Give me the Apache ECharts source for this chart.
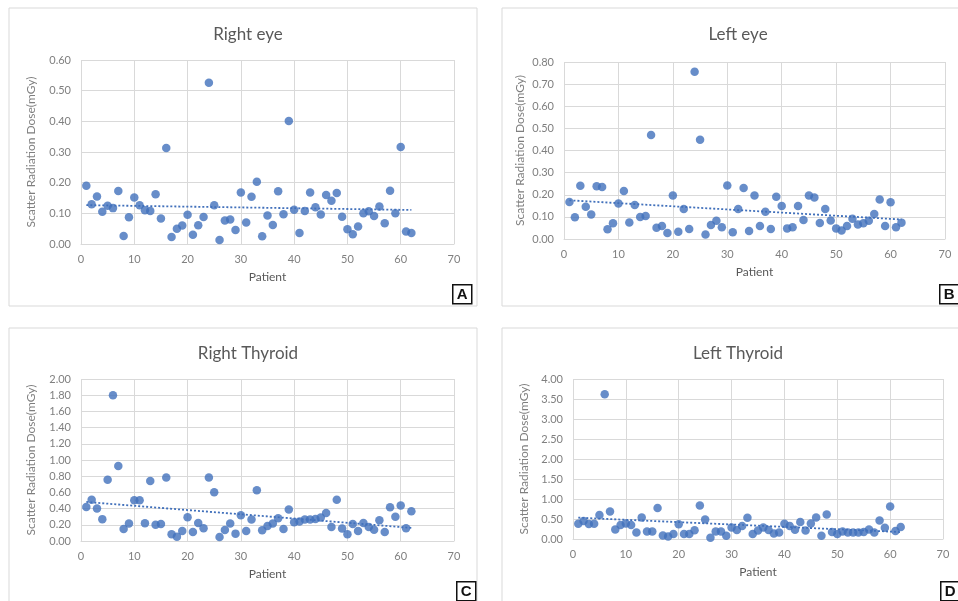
<!DOCTYPE html>
<html>
<head>
<meta charset="utf-8">
<script src="https://cdn.jsdelivr.net/npm/echarts@6/dist/echarts.min.js"></script>
<style>
  html, body { margin: 0; padding: 0; background: #fff; }
  #chart { width: 958px; height: 601px; }
</style>
</head>
<body>
<div id="chart"></div>
<script>
// patient number on x
const patients = [
  1, 2, 3, 4, 5, 6, 7, 8, 9, 10, 11, 12, 13, 14, 15, 16, 17, 18, 19, 20,
  21, 22, 23, 24, 25, 26, 27, 28, 29, 30, 31, 32, 33, 34, 35, 36, 37, 38, 39, 40,
  41, 42, 43, 44, 45, 46, 47, 48, 49, 50, 51, 52, 53, 54, 55, 56, 57, 58, 59, 60,
  61, 62,
];

// scatter dose (mGy)
const rightEye = [
  0.19, 0.13, 0.155, 0.105, 0.125, 0.117, 0.173, 0.026, 0.087, 0.152,
  0.126, 0.11, 0.108, 0.162, 0.083, 0.313, 0.023, 0.05, 0.06, 0.095,
  0.03, 0.061, 0.088, 0.526, 0.126, 0.013, 0.077, 0.08, 0.046, 0.168,
  0.07, 0.154, 0.203, 0.025, 0.093, 0.062, 0.172, 0.097, 0.401, 0.112,
  0.036, 0.108, 0.168, 0.12, 0.096, 0.16, 0.141, 0.166, 0.089, 0.048,
  0.032, 0.057, 0.1, 0.107, 0.091, 0.122, 0.068, 0.174, 0.1, 0.316,
  0.041, 0.036,
];
const leftEye = [
  0.167, 0.098, 0.241, 0.146, 0.111, 0.238, 0.235, 0.044, 0.071, 0.16,
  0.217, 0.075, 0.154, 0.099, 0.104, 0.47, 0.051, 0.059, 0.027, 0.197,
  0.033, 0.136, 0.045, 0.756, 0.449, 0.02, 0.063, 0.083, 0.053, 0.242,
  0.03, 0.136, 0.23, 0.036, 0.197, 0.059, 0.123, 0.045, 0.191, 0.149,
  0.048, 0.053, 0.149, 0.086, 0.197, 0.188, 0.072, 0.136, 0.084, 0.048,
  0.038, 0.059, 0.092, 0.065, 0.071, 0.083, 0.113, 0.178, 0.059, 0.166,
  0.053, 0.074,
];
const rightThyroid = [
  0.42, 0.51, 0.40, 0.27, 0.756, 1.80, 0.926, 0.149, 0.215, 0.504,
  0.504, 0.219, 0.74, 0.20, 0.21, 0.785, 0.083, 0.054, 0.124, 0.293,
  0.112, 0.223, 0.157, 0.785, 0.603, 0.05, 0.136, 0.215, 0.091, 0.318,
  0.124, 0.264, 0.628, 0.132, 0.186, 0.215, 0.281, 0.149, 0.388, 0.231,
  0.24, 0.264, 0.264, 0.273, 0.289, 0.347, 0.174, 0.508, 0.153, 0.083,
  0.21, 0.124, 0.223, 0.174, 0.14, 0.256, 0.112, 0.417, 0.298, 0.438,
  0.157, 0.368,
];
const leftThyroid = [
  0.38, 0.45, 0.375, 0.38, 0.6, 3.62, 0.69, 0.24, 0.35, 0.39,
  0.35, 0.16, 0.54, 0.19, 0.19, 0.775, 0.09, 0.06, 0.125, 0.37,
  0.125, 0.125, 0.22, 0.84, 0.49, 0.03, 0.19, 0.19, 0.08, 0.29,
  0.225, 0.325, 0.53, 0.125, 0.21, 0.29, 0.225, 0.14, 0.16, 0.38,
  0.325, 0.23, 0.425, 0.21, 0.39, 0.54, 0.08, 0.61, 0.175, 0.125,
  0.19, 0.16, 0.16, 0.16, 0.175, 0.24, 0.16, 0.46, 0.28, 0.81,
  0.2, 0.3,
];

const panelTitles = ["Right eye", "Left eye", "Right Thyroid", "Left Thyroid"];
const panelTags = ["A", "B", "C", "D"];
const yMax = [0.6, 0.8, 2.0, 4.0];
const yStep = [0.1, 0.1, 0.2, 0.5];

const dotColor = "#4170bb";
const textGray = "#595959";
const tickGray = "#7f7f7f";
const lineGray = "#d9d9d9";
const font = "Lato, 'Open Sans', sans-serif";

// linear trendline like excel does
function trend(xs, ys) {
  const n = xs.length;
  let sx = 0, sy = 0, sxx = 0, sxy = 0;
  for (let i = 0; i < n; i++) {
    sx += xs[i]; sy += ys[i];
    sxx += xs[i] * xs[i]; sxy += xs[i] * ys[i];
  }
  const b = (n * sxy - sx * sy) / (n * sxx - sx * sx);
  const a = (sy - b * sx) / n;
  const x0 = xs[0], x1 = xs[n - 1];
  return [[x0, a + b * x0], [x1, a + b * x1]];
}

const allData = [rightEye, leftEye, rightThyroid, leftThyroid];

// panel layout
const grids = [
  { left: 81, top: 60, width: 373, height: 184 },
  { left: 564, top: 62, width: 381, height: 177 },
  { left: 81, top: 379, width: 373, height: 162 },
  { left: 573, top: 379, width: 370, height: 160 },
];
const titlePos = [[243, 21], [733, 21], [243, 340], [733, 340]];
const yNameGap = [44, 38, 44, 43];
const boxes = [
  [9, 8, 468, 298], [502, 8, 470, 298],
  [9, 328, 468, 290], [502, 328, 470, 290],
];
const tagPos = [[452, 284], [939, 284], [456, 581], [940, 581]];

let xAxes = [], yAxes = [], series = [], titles = [], graphics = [];

boxes.forEach((b) => {
  graphics.push({
    type: "rect",
    shape: { x: b[0], y: b[1], width: b[2], height: b[3] },
    style: { fill: "none", stroke: lineGray, lineWidth: 1 },
    z: -1,
  });
});

for (let k = 0; k < 4; k++) {
  titles.push({
    text: panelTitles[k],
    left: titlePos[k][0],
    top: titlePos[k][1],
    textAlign: "center",
    textStyle: { fontFamily: font, fontSize: 17, fontWeight: "normal", color: textGray },
  });
  xAxes.push({
    gridIndex: k,
    type: "value",
    min: 0,
    max: 70,
    interval: 10,
    name: "Patient",
    nameLocation: "middle",
    nameGap: 27,
    nameTextStyle: { fontFamily: font, fontSize: 12, color: textGray },
    axisLine: { show: true, lineStyle: { color: lineGray } },
    axisTick: { show: false },
    axisLabel: { fontFamily: font, fontSize: 11, color: tickGray, margin: 10 },
    splitLine: { show: true, lineStyle: { color: lineGray } },
  });
  yAxes.push({
    gridIndex: k,
    type: "value",
    min: 0,
    max: yMax[k],
    interval: yStep[k],
    name: "Scatter Radiation Dose(mGy)",
    nameLocation: "middle",
    nameGap: yNameGap[k],
    nameTextStyle: { fontFamily: font, fontSize: 12, color: tickGray },
    axisLine: { show: false },
    axisTick: { show: false },
    axisLabel: {
      fontFamily: font, fontSize: 11, color: tickGray, margin: 10,
      formatter: (v) => v.toFixed(2),
    },
    splitLine: { show: true, lineStyle: { color: lineGray } },
  });
  const pts = patients.map((p, i) => [p, allData[k][i]]);
  series.push({
    type: "scatter",
    xAxisIndex: k,
    yAxisIndex: k,
    data: pts,
    symbolSize: 8.5,
    itemStyle: { color: dotColor },
    z: 3,
  });
  series.push({
    type: "line",
    xAxisIndex: k,
    yAxisIndex: k,
    data: trend(patients, allData[k]),
    symbol: "none",
    lineStyle: { color: dotColor, width: 1.8, type: [2, 2] },
    z: 2,
  });
  graphics.push({
    type: "group",
    left: tagPos[k][0],
    top: tagPos[k][1],
    children: [
      {
        type: "rect",
        shape: { x: 0, y: 0, width: 19, height: 19 },
        style: { fill: "#fff", stroke: "#111", lineWidth: 1.5 },
      },
      {
        type: "text",
        x: 9.5, y: 10,
        style: {
          text: panelTags[k], fill: "#111",
          font: "bold 15px 'Liberation Sans', Arial, sans-serif",
          align: "center", verticalAlign: "middle",
        },
      },
    ],
  });
}

const chart = echarts.init(document.getElementById("chart"));
chart.setOption({
  animation: false,
  backgroundColor: "#fff",
  title: titles,
  grid: grids,
  xAxis: xAxes,
  yAxis: yAxes,
  series: series,
  graphic: graphics,
});
</script>
</body>
</html>
